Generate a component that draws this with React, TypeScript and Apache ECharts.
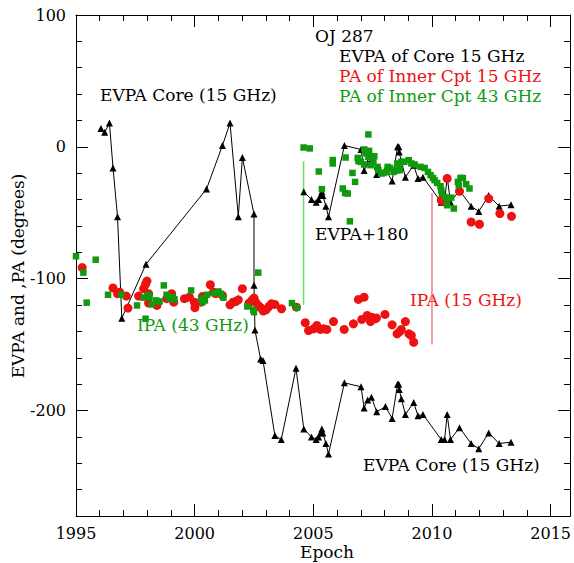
import React, { useEffect, useRef } from "react";
import * as echarts from "echarts";

// Tick labels
const xTickLabels = [1995, 2000, 2005, 2010, 2015];
const yTickLabels = [-200, -100, 0, 100];

// EVPA of core 15 GHz [epoch, degrees]
const evpaCore: number[][] = [
  [1996.05, 14], [1996.21, 11], [1996.41, 18], [1996.56, -16], [1996.75, -53], [1996.93, -130],
  [1997.95, -89], [2000.5, -32], [2001.17, 1], [2001.49, 18], [2001.84, -53], [2002.01, -8],
  [2002.5, -51], [2002.5, -105], [2002.54, -139], [2002.78, -161], [2002.88, -162], [2003.38, -219],
  [2003.65, -222], [2004.27, -168], [2004.6, -214], [2004.92, -220], [2005.12, -222], [2005.22, -220],
  [2005.3, -217], [2005.36, -214], [2005.4, -217], [2005.53, -225], [2005.64, -233], [2006.31, -179],
  [2007.01, -182], [2007.14, -198], [2007.29, -192], [2007.45, -190], [2007.67, -201], [2008.04, -197],
  [2008.32, -206], [2008.55, -180], [2008.6, -180], [2008.62, -184], [2008.71, -191], [2008.88, -203],
  [2009.23, -194], [2009.41, -204], [2009.62, -203], [2010.39, -222], [2010.53, -222], [2010.64, -203],
  [2010.78, -222], [2011.16, -213], [2011.65, -225], [2011.97, -229], [2012.39, -217], [2012.83, -225],
  [2013.33, -224],
];

// EVPA + 180 (upper branch)
const evpaPlus180: number[][] = [
  [2004.6, -34], [2004.92, -40], [2005.12, -42], [2005.22, -40], [2005.3, -37], [2005.36, -34],
  [2005.4, -37], [2005.53, -45], [2005.64, -53], [2006.31, 1], [2007.01, -2], [2007.14, -18],
  [2007.29, -12], [2007.45, -10], [2007.67, -21], [2008.04, -17], [2008.32, -26], [2008.55, 0],
  [2008.6, 0], [2008.62, -4], [2008.71, -11], [2008.88, -23], [2009.23, -14], [2009.41, -24],
  [2009.62, -23], [2010.39, -42], [2010.53, -42], [2010.64, -23], [2010.78, -42], [2011.16, -33],
  [2011.65, -45], [2011.97, -49], [2012.39, -37], [2012.83, -45], [2013.33, -44],
];

// PA of inner component 15 GHz
const paInner15: number[][] = [
  [1995.26, -91.6], [1996.56, -107], [1996.75, -111.4], [1996.84, -110.2], [1997.12, -113.2], [1997.19, -122.3],
  [1997.64, -113.2], [1997.85, -107.6], [1997.99, -101.8], [1997.93, -104.3], [1998.06, -111.4], [1998.06, -118.5],
  [1998.41, -120.3], [1998.82, -115.2], [1999.03, -111.4], [1999.12, -117.8], [1999.57, -115.2], [1999.78, -114],
  [1999.99, -117.8], [2000.01, -122], [2000.27, -117.8], [2000.33, -113.5], [2000.66, -104.6], [2000.79, -110.2],
  [2000.89, -111.4], [2001.17, -112.7], [2001.49, -119.8], [2001.62, -117.8], [2001.73, -117.3], [2001.84, -116],
  [2002.01, -107.6], [2002.29, -118.5], [2002.43, -116], [2002.5, -114.7], [2002.57, -117.8], [2002.68, -120.3],
  [2002.78, -122], [2002.89, -124.6], [2003.01, -123.6], [2003.13, -121.1], [2003.24, -119], [2003.38, -119.5],
  [2003.66, -122.8], [2004.29, -121.6], [2004.66, -133.4], [2004.8, -139.3], [2005.01, -138], [2005.15, -135.5],
  [2005.29, -138.5], [2005.43, -138], [2005.57, -138.5], [2005.85, -132.5], [2006.3, -138.5], [2006.69, -134.2],
  [2006.9, -115.7], [2007.14, -114], [2007.04, -130.9], [2007.27, -127.9], [2007.46, -129.2], [2007.41, -132.5],
  [2007.6, -130.4], [2007.66, -129.9], [2008.02, -127.1], [2008.32, -135], [2008.53, -141.8], [2008.64, -140.1],
  [2008.71, -138.5], [2008.88, -132.5], [2009.03, -141.8], [2009.13, -143.1], [2009.23, -148.2],
  [2010.39, -40.5], [2010.53, -41.8], [2010.64, -24], [2011.16, -33.7], [2011.65, -57], [2012.0, -58.7],
  [2012.39, -39.2], [2012.86, -50.6], [2013.35, -52.7],
];

// PA of inner component 43 GHz
const paInner43: number[][] = [
  [1995.0, -83], [1995.31, -95.4], [1995.45, -118.2], [1995.83, -85.6], [1996.35, -112.2], [1996.91, -112.2],
  [1997.57, -120.3], [1997.86, -114.4], [1997.93, -130.4], [1998.06, -112.2], [1998.1, -114], [1998.2, -119.5],
  [1998.38, -116.5], [1998.52, -117.3], [1998.7, -105.1], [1998.82, -112.2], [1998.94, -115.2], [1999.08, -114],
  [1999.15, -115.7], [1999.85, -108.9], [2000.27, -115.2], [2000.33, -117.8], [2000.43, -116.5], [2000.52, -112.2],
  [2000.82, -110.9], [2001.0, -109.7], [2001.1, -111.4], [2001.21, -114.4], [2002.22, -121.1], [2002.47, -123.6],
  [2002.5, -125.4], [2002.68, -95.4], [2004.1, -118.5], [2004.31, -122],
  [2004.59, -0.5], [2004.85, -1.2], [2005.23, -18.7], [2005.36, -32.1], [2005.82, -10], [2005.82, -12.6],
  [2006.24, -31.6], [2006.34, -35], [2006.45, -35.4], [2006.36, -8.1], [2006.54, -56.5], [2006.65, -19.8],
  [2006.76, -26.6], [2006.87, -8.4], [2006.9, -10.9], [2007.01, -11.4], [2007.14, -13.4], [2007.15, -2],
  [2007.35, -3], [2007.32, 9.4], [2007.2, -5], [2007.32, -7.6], [2007.46, -7.1], [2007.57, -7.1],
  [2007.53, -11.4], [2007.41, -13.9], [2007.71, -15.2], [2007.74, -17.7], [2007.87, -20.2], [2007.96, -19.8],
  [2008.1, -19], [2008.13, -15.2], [2008.23, -16], [2008.38, -19], [2008.44, -18.2], [2008.51, -17.7],
  [2008.54, -12.6], [2008.62, -16.4], [2008.64, -17.7], [2008.71, -11.4], [2008.83, -11.4], [2009.02, -10.1],
  [2009.13, -12.6], [2009.27, -13.4], [2009.52, -15.2], [2009.69, -16], [2009.83, -19], [2009.94, -21.5],
  [2010.04, -23.6], [2010.11, -25.3], [2010.22, -27.4], [2010.36, -29.9], [2010.39, -32.9], [2010.42, -35],
  [2010.53, -38], [2010.67, -39.2], [2010.81, -38.5], [2010.92, -46.8], [2010.64, -44.3], [2011.2, -23.6],
  [2011.3, -23.6], [2011.09, -26.6], [2011.13, -29.1], [2011.44, -28.3], [2011.58, -31.6],
];

// Marker vertical lines
const greenMarkLine: number[][] = [[2004.59, -11], [2004.59, -120]];
const redMarkLine: number[][] = [[2010.0, -35], [2010.0, -150]];

const FONT = "DejaVu Serif";
const RED = "#ee1111";
const GREEN = "#0f9a0f";

export default function App() {
  const ref = useRef<HTMLDivElement>(null);
  useEffect(() => {
    if (!ref.current) return;
    const chart = echarts.init(ref.current, undefined, { renderer: "svg" });
    const xMin = 1995;
    const xMax = 2015.82;
    const yMin = -280;
    const yMax = 100;
    const line = { show: true, onZero: false, lineStyle: { color: "#000", width: 1 } };
    const noLine = { show: false, onZero: false };
    const xBase = (pos: string, labels: boolean, interval: number, len: number, showLine: boolean) => ({
      type: "value",
      position: pos,
      min: xMin,
      max: xMax,
      interval,
      axisLine: showLine ? line : noLine,
      axisTick: { show: true, inside: true, length: len, lineStyle: { color: "#000", width: 1 } },
      axisLabel: labels
        ? {
            show: true,
            margin: 9,
            fontFamily: FONT,
            fontSize: 16,
            color: "#000",
            formatter: (v: number) => (xTickLabels.some((t) => Math.abs(t - v) < 1e-6) ? String(v) : ""),
          }
        : { show: false },
      splitLine: { show: false },
    });
    const yBase = (pos: string, labels: boolean, len: number, showLine: boolean, custom: boolean) => ({
      type: "value",
      position: pos,
      min: yMin,
      max: yMax,
      interval: 20,
      axisLine: showLine ? line : noLine,
      axisTick: custom
        ? { show: true, inside: true, length: len, customValues: yTickLabels, lineStyle: { color: "#000", width: 1 } }
        : { show: true, inside: true, length: len, lineStyle: { color: "#000", width: 1 } },
      axisLabel: labels
        ? {
            show: true,
            margin: 10,
            fontFamily: FONT,
            fontSize: 16,
            color: "#000",
            formatter: (v: number) => (yTickLabels.some((t) => Math.abs(t - v) < 1e-6) ? String(v) : ""),
          }
        : { show: false },
      splitLine: { show: false },
    });

    chart.setOption({
      animation: false,
      backgroundColor: "#fff",
      grid: { left: 76, top: 15, right: 1.5, bottom: 47, containLabel: false },
      xAxis: [
        xBase("bottom", true, 1, 6, true),
        xBase("bottom", false, 5, 12, false),
        xBase("top", false, 1, 6, true),
        xBase("top", false, 5, 12, false),
      ],
      yAxis: [
        yBase("left", true, 6, true, false),
        yBase("left", false, 12, false, true),
        yBase("right", false, 6, true, false),
        yBase("right", false, 12, false, true),
      ],
      series: [
        {
          type: "line",
          data: greenMarkLine,
          symbol: "none",
          lineStyle: { color: "#66e066", width: 1.5 },
          z: 1,
        },
        {
          type: "line",
          data: redMarkLine,
          symbol: "none",
          lineStyle: { color: "#f08080", width: 1.5 },
          z: 1,
        },
        {
          type: "line",
          data: evpaCore,
          symbol: "triangle",
          symbolSize: 7,
          showSymbol: true,
          lineStyle: { color: "#000", width: 1 },
          itemStyle: { color: "#000", opacity: 1 },
          z: 2,
        },
        {
          type: "line",
          data: evpaPlus180,
          symbol: "triangle",
          symbolSize: 7,
          showSymbol: true,
          lineStyle: { color: "#000", width: 1 },
          itemStyle: { color: "#000", opacity: 1 },
          z: 2,
        },
        {
          type: "scatter",
          data: paInner15,
          symbol: "circle",
          symbolSize: 9,
          itemStyle: { color: RED, opacity: 1 },
          z: 3,
        },
        {
          type: "scatter",
          data: paInner43,
          symbol: "rect",
          symbolSize: 6.5,
          itemStyle: { color: GREEN, opacity: 1 },
          z: 4,
        },
      ],
      graphic: [
        { type: "text", left: 315, top: 27, style: { text: "OJ 287", font: `17px '${FONT}'`, fill: "#000" } },
        { type: "text", left: 339, top: 47, style: { text: "EVPA of Core 15 GHz", font: `17px '${FONT}'`, fill: "#000" } },
        { type: "text", left: 339, top: 67, style: { text: "PA of Inner Cpt 15 GHz", font: `17px '${FONT}'`, fill: RED } },
        { type: "text", left: 339, top: 87, style: { text: "PA of Inner Cpt 43 GHz", font: `17px '${FONT}'`, fill: GREEN } },
        { type: "text", left: 100, top: 86, style: { text: "EVPA Core (15 GHz)", font: `17px '${FONT}'`, fill: "#000" } },
        { type: "text", left: 315, top: 225, style: { text: "EVPA+180", font: `17px '${FONT}'`, fill: "#000" } },
        { type: "text", left: 410, top: 291, style: { text: "IPA (15 GHz)", font: `17px '${FONT}'`, fill: RED } },
        { type: "text", left: 137, top: 316, style: { text: "IPA (43 GHz)", font: `17px '${FONT}'`, fill: GREEN } },
        { type: "text", left: 363, top: 456, style: { text: "EVPA Core (15 GHz)", font: `17px '${FONT}'`, fill: "#000" } },
        { type: "text", left: 300, top: 543, style: { text: "Epoch", font: `17px '${FONT}'`, fill: "#000" } },
        {
          type: "text",
          x: 18,
          y: 276,
          rotation: Math.PI / 2,
          style: {
            text: "EVPA and ,PA (degrees)",
            font: `17px '${FONT}'`,
            fill: "#000",
            textAlign: "center",
            textVerticalAlign: "middle",
          },
        },
      ],
    });
    return () => chart.dispose();
  }, []);
  return <div ref={ref} style={{ position: "fixed", left: 0, top: 0, width: 574, height: 563 }} />;
}
